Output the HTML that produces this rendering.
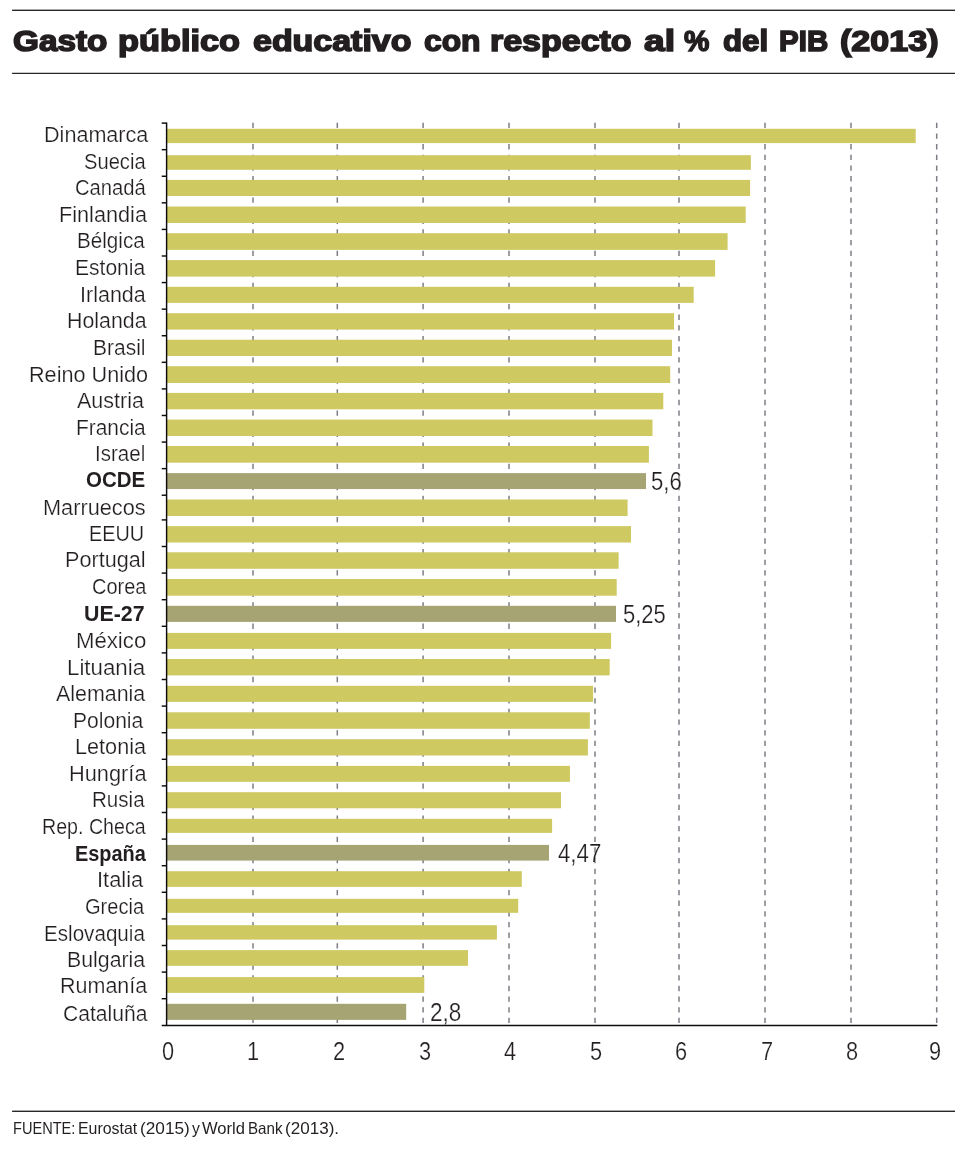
<!DOCTYPE html>
<html lang="es">
<head>
<meta charset="utf-8">
<title>Gasto público educativo con respecto al % del PIB (2013)</title>
<style>
html,body{margin:0;padding:0;background:#fff;}
body{width:980px;height:1164px;position:relative;overflow:hidden;font-family:"Liberation Sans",sans-serif;color:#231f20;}
.t{position:absolute;line-height:1;white-space:nowrap;transform-origin:0 0;margin:0;font-weight:400;}
.ttl,.src{margin:0;padding:0;position:static;font-weight:400;}.ttl span{font-size:30.0px;font-weight:700;-webkit-text-stroke:1.6px #231f20;}.src span{font-size:16.5px;}.lb{font-size:22px;}.b{font-weight:700;}.v,.k{font-size:25px;}.n,.v,.k{-webkit-text-stroke:0.22px #fff;}
svg{position:absolute;left:0;top:0;}
</style>
</head>
<body>
<svg width="980" height="1164" viewBox="0 0 980 1164" aria-hidden="true">
<rect x="12.1" y="9.60" width="942.9" height="1.40" fill="#2a2627"/>
<rect x="12.1" y="72.75" width="942.9" height="1.25" fill="#2a2627"/>
<rect x="12.1" y="1110.60" width="942.9" height="1.40" fill="#2a2627"/>
<g stroke="#7d7d86" stroke-width="1.5" stroke-dasharray="5.3 5.355" fill="none">
<line x1="253.0" y1="122.8" x2="253.0" y2="1025.5"/>
<line x1="337.3" y1="122.8" x2="337.3" y2="1025.5"/>
<line x1="423.1" y1="122.8" x2="423.1" y2="1025.5"/>
<line x1="509.0" y1="122.8" x2="509.0" y2="1025.5"/>
<line x1="595.0" y1="122.8" x2="595.0" y2="1025.5"/>
<line x1="679.0" y1="122.8" x2="679.0" y2="1025.5"/>
<line x1="765.0" y1="122.8" x2="765.0" y2="1025.5"/>
<line x1="851.0" y1="122.8" x2="851.0" y2="1025.5"/>
<line x1="936.7" y1="122.8" x2="936.7" y2="1025.5"/>
</g>
<rect x="166.6" y="128.80" width="749.10" height="14.30" fill="#cfc962"/>
<rect x="166.6" y="155.20" width="584.30" height="14.60" fill="#cfc962"/>
<rect x="166.6" y="179.90" width="583.50" height="16.10" fill="#cfc962"/>
<rect x="166.6" y="206.50" width="579.10" height="16.50" fill="#cfc962"/>
<rect x="166.6" y="233.20" width="561.00" height="16.70" fill="#cfc962"/>
<rect x="166.6" y="260.10" width="548.50" height="16.50" fill="#cfc962"/>
<rect x="166.6" y="286.80" width="527.10" height="16.10" fill="#cfc962"/>
<rect x="166.6" y="313.20" width="507.40" height="16.40" fill="#cfc962"/>
<rect x="166.6" y="339.70" width="505.40" height="16.30" fill="#cfc962"/>
<rect x="166.6" y="366.20" width="503.60" height="16.80" fill="#cfc962"/>
<rect x="166.6" y="392.90" width="496.70" height="16.40" fill="#cfc962"/>
<rect x="166.6" y="419.60" width="485.90" height="16.40" fill="#cfc962"/>
<rect x="166.6" y="446.00" width="482.30" height="16.70" fill="#cfc962"/>
<rect x="166.6" y="473.10" width="479.40" height="15.95" fill="#a7a474"/>
<rect x="166.6" y="499.50" width="461.00" height="16.50" fill="#cfc962"/>
<rect x="166.6" y="526.10" width="464.40" height="16.40" fill="#cfc962"/>
<rect x="166.6" y="552.30" width="452.00" height="16.50" fill="#cfc962"/>
<rect x="166.6" y="579.00" width="450.10" height="16.70" fill="#cfc962"/>
<rect x="166.6" y="605.80" width="449.40" height="16.10" fill="#a7a474"/>
<rect x="166.6" y="632.90" width="444.50" height="16.00" fill="#cfc962"/>
<rect x="166.6" y="659.00" width="443.10" height="16.40" fill="#cfc962"/>
<rect x="166.6" y="685.80" width="426.50" height="16.10" fill="#cfc962"/>
<rect x="166.6" y="712.30" width="423.20" height="16.50" fill="#cfc962"/>
<rect x="166.6" y="739.20" width="421.30" height="16.30" fill="#cfc962"/>
<rect x="166.6" y="765.90" width="403.35" height="15.90" fill="#cfc962"/>
<rect x="166.6" y="792.20" width="394.40" height="16.10" fill="#cfc962"/>
<rect x="166.6" y="818.80" width="385.50" height="14.10" fill="#cfc962"/>
<rect x="166.6" y="844.90" width="382.40" height="15.70" fill="#a7a474"/>
<rect x="166.6" y="871.20" width="355.20" height="15.70" fill="#cfc962"/>
<rect x="166.6" y="898.80" width="351.60" height="14.05" fill="#cfc962"/>
<rect x="166.6" y="925.20" width="330.30" height="14.40" fill="#cfc962"/>
<rect x="166.6" y="950.10" width="301.40" height="15.70" fill="#cfc962"/>
<rect x="166.6" y="977.10" width="257.70" height="15.80" fill="#cfc962"/>
<rect x="166.6" y="1003.80" width="239.60" height="16.10" fill="#a7a474"/>
<g stroke="#0e0c0d" stroke-width="1.45" fill="none">
<line x1="166.6" y1="122.4" x2="166.6" y2="1026.1"/>
<line x1="161.7" y1="1025.5" x2="937.3" y2="1025.5"/>
<line x1="161.7" y1="123.10" x2="166.6" y2="123.10"/>
<line x1="161.7" y1="149.68" x2="166.6" y2="149.68"/>
<line x1="161.7" y1="176.26" x2="166.6" y2="176.26"/>
<line x1="161.7" y1="202.84" x2="166.6" y2="202.84"/>
<line x1="161.7" y1="229.42" x2="166.6" y2="229.42"/>
<line x1="161.7" y1="256.00" x2="166.6" y2="256.00"/>
<line x1="161.7" y1="282.58" x2="166.6" y2="282.58"/>
<line x1="161.7" y1="309.16" x2="166.6" y2="309.16"/>
<line x1="161.7" y1="335.74" x2="166.6" y2="335.74"/>
<line x1="161.7" y1="362.32" x2="166.6" y2="362.32"/>
<line x1="161.7" y1="388.90" x2="166.6" y2="388.90"/>
<line x1="161.7" y1="415.48" x2="166.6" y2="415.48"/>
<line x1="161.7" y1="442.06" x2="166.6" y2="442.06"/>
<line x1="161.7" y1="468.64" x2="166.6" y2="468.64"/>
<line x1="161.7" y1="495.22" x2="166.6" y2="495.22"/>
<line x1="161.7" y1="519.90" x2="166.6" y2="519.90"/>
<line x1="161.7" y1="546.50" x2="166.6" y2="546.50"/>
<line x1="161.7" y1="573.10" x2="166.6" y2="573.10"/>
<line x1="161.7" y1="599.70" x2="166.6" y2="599.70"/>
<line x1="161.7" y1="626.30" x2="166.6" y2="626.30"/>
<line x1="161.7" y1="652.90" x2="166.6" y2="652.90"/>
<line x1="161.7" y1="679.50" x2="166.6" y2="679.50"/>
<line x1="161.7" y1="706.10" x2="166.6" y2="706.10"/>
<line x1="161.7" y1="732.70" x2="166.6" y2="732.70"/>
<line x1="161.7" y1="759.30" x2="166.6" y2="759.30"/>
<line x1="161.7" y1="785.90" x2="166.6" y2="785.90"/>
<line x1="161.7" y1="812.50" x2="166.6" y2="812.50"/>
<line x1="161.7" y1="839.10" x2="166.6" y2="839.10"/>
<line x1="161.7" y1="865.70" x2="166.6" y2="865.70"/>
<line x1="161.7" y1="892.30" x2="166.6" y2="892.30"/>
<line x1="161.7" y1="918.90" x2="166.6" y2="918.90"/>
<line x1="161.7" y1="945.50" x2="166.6" y2="945.50"/>
<line x1="161.7" y1="972.10" x2="166.6" y2="972.10"/>
<line x1="161.7" y1="998.70" x2="166.6" y2="998.70"/>
</g>
</svg>
<h1 class="ttl"><span class="t" style="left:12.80px;top:25.81px;transform:scaleX(1.1094);">Gasto</span> <span class="t" style="left:118.36px;top:25.81px;transform:scaleX(1.1448);">público</span> <span class="t" style="left:253.20px;top:25.81px;transform:scaleX(1.1314);">educativo</span> <span class="t" style="left:423.70px;top:25.81px;transform:scaleX(1.0604);">con</span> <span class="t" style="left:489.87px;top:25.81px;transform:scaleX(1.1323);">respecto</span> <span class="t" style="left:644.00px;top:25.81px;transform:scaleX(1.2375);">al</span> <span class="t" style="left:684.40px;top:25.81px;transform:scaleX(0.9481);">%</span> <span class="t" style="left:722.50px;top:25.81px;transform:scaleX(1.0429);">del</span> <span class="t" style="left:778.72px;top:25.81px;transform:scaleX(0.9837);">PIB</span> <span class="t" style="left:840.30px;top:25.81px;transform:scaleX(1.1360);">(2013)</span></h1>
<div class="chart">
<div class="t lb n" style="left:44.44px;top:123.78px;transform:scaleX(0.9810);">Dinamarca</div>
<div class="t lb n" style="left:83.78px;top:150.58px;transform:scaleX(0.9159);">Suecia</div>
<div class="t lb n" style="left:75.38px;top:176.88px;transform:scaleX(0.9197);">Canadá</div>
<div class="t lb n" style="left:58.53px;top:203.68px;transform:scaleX(0.9851);">Finlandia</div>
<div class="t lb n" style="left:77.12px;top:230.48px;transform:scaleX(0.9386);">Bélgica</div>
<div class="t lb n" style="left:75.39px;top:257.28px;transform:scaleX(0.9569);">Estonia</div>
<div class="t lb n" style="left:79.64px;top:283.78px;transform:scaleX(0.9777);">Irlanda</div>
<div class="t lb n" style="left:66.66px;top:310.28px;transform:scaleX(0.9700);">Holanda</div>
<div class="t lb n" style="left:93.19px;top:336.88px;transform:scaleX(0.9538);">Brasil</div>
<div class="t lb n" style="left:29.13px;top:363.68px;transform:scaleX(0.9831);">Reino Unido</div>
<div class="t lb n" style="left:77.30px;top:389.88px;transform:scaleX(0.9768);">Austria</div>
<div class="t lb n" style="left:76.20px;top:416.98px;transform:scaleX(0.9507);">Francia</div>
<div class="t lb n" style="left:94.63px;top:443.28px;transform:scaleX(0.9333);">Israel</div>
<div class="t lb b" style="left:86.47px;top:468.98px;transform:scaleX(0.9315);">OCDE</div>
<div class="t lb n" style="left:42.92px;top:496.58px;transform:scaleX(0.9881);">Marruecos</div>
<div class="t lb n" style="left:89.30px;top:523.38px;transform:scaleX(0.9000);">EEUU</div>
<div class="t lb n" style="left:65.14px;top:549.38px;transform:scaleX(0.9823);">Portugal</div>
<div class="t lb n" style="left:91.69px;top:576.18px;transform:scaleX(0.9085);">Corea</div>
<div class="t lb b" style="left:84.48px;top:602.98px;transform:scaleX(0.9713);">UE-27</div>
<div class="t lb n" style="left:76.09px;top:629.78px;transform:scaleX(1.0075);">México</div>
<div class="t lb n" style="left:67.07px;top:656.58px;transform:scaleX(1.0140);">Lituania</div>
<div class="t lb n" style="left:55.60px;top:682.88px;transform:scaleX(0.9734);">Alemania</div>
<div class="t lb n" style="left:73.29px;top:709.88px;transform:scaleX(0.9569);">Polonia</div>
<div class="t lb n" style="left:75.33px;top:736.48px;transform:scaleX(0.9843);">Letonia</div>
<div class="t lb n" style="left:68.62px;top:762.58px;transform:scaleX(0.9908);">Hungría</div>
<div class="t lb n" style="left:92.33px;top:789.48px;transform:scaleX(0.9352);">Rusia</div>
<div class="t lb n" style="left:41.61px;top:816.28px;transform:scaleX(0.8925);">Rep. Checa</div>
<div class="t lb b" style="left:74.89px;top:842.58px;transform:scaleX(0.9051);">España</div>
<div class="t lb n" style="left:96.81px;top:869.08px;transform:scaleX(0.9956);">Italia</div>
<div class="t lb n" style="left:84.89px;top:896.18px;transform:scaleX(0.9109);">Grecia</div>
<div class="t lb n" style="left:44.23px;top:922.88px;transform:scaleX(0.9373);">Eslovaquia</div>
<div class="t lb n" style="left:67.46px;top:948.98px;transform:scaleX(0.9684);">Bulgaria</div>
<div class="t lb n" style="left:59.75px;top:975.38px;transform:scaleX(0.9770);">Rumanía</div>
<div class="t lb n" style="left:62.64px;top:1002.58px;transform:scaleX(0.9598);">Cataluña</div>
<div class="t v" style="left:651.42px;top:468.54px;transform:scaleX(0.8848);">5,6</div>
<div class="t v" style="left:623.22px;top:602.14px;transform:scaleX(0.8787);">5,25</div>
<div class="t v" style="left:558.30px;top:841.04px;transform:scaleX(0.8896);">4,47</div>
<div class="t v" style="left:430.10px;top:999.54px;transform:scaleX(0.9000);">2,8</div>
<div class="t k" style="left:161.66px;top:1038.54px;transform:scaleX(0.8700);">0</div>
<div class="t k" style="left:246.78px;top:1038.54px;transform:scaleX(0.8700);">1</div>
<div class="t k" style="left:332.96px;top:1038.54px;transform:scaleX(0.8700);">2</div>
<div class="t k" style="left:418.66px;top:1038.54px;transform:scaleX(0.8700);">3</div>
<div class="t k" style="left:504.40px;top:1038.54px;transform:scaleX(0.8700);">4</div>
<div class="t k" style="left:589.66px;top:1038.54px;transform:scaleX(0.8700);">5</div>
<div class="t k" style="left:674.91px;top:1038.54px;transform:scaleX(0.8700);">6</div>
<div class="t k" style="left:760.61px;top:1038.54px;transform:scaleX(0.8700);">7</div>
<div class="t k" style="left:846.06px;top:1038.54px;transform:scaleX(0.8700);">8</div>
<div class="t k" style="left:929.06px;top:1038.54px;transform:scaleX(0.8700);">9</div>
</div>
<p class="src"><span class="t" style="left:12.52px;top:1119.93px;transform:scaleX(0.8838);">FUENTE:</span> <span class="t" style="left:78.04px;top:1119.93px;transform:scaleX(0.9642);">Eurostat</span> <span class="t" style="left:139.76px;top:1119.93px;transform:scaleX(1.0435);">(2015)</span> <span class="t" style="left:192.40px;top:1119.93px;transform:scaleX(0.9500);">y</span> <span class="t" style="left:201.80px;top:1119.93px;transform:scaleX(1.0048);">World</span> <span class="t" style="left:248.08px;top:1119.93px;transform:scaleX(0.9167);">Bank</span> <span class="t" style="left:284.97px;top:1119.93px;transform:scaleX(1.0340);">(2013).</span></p>
</body>
</html>
